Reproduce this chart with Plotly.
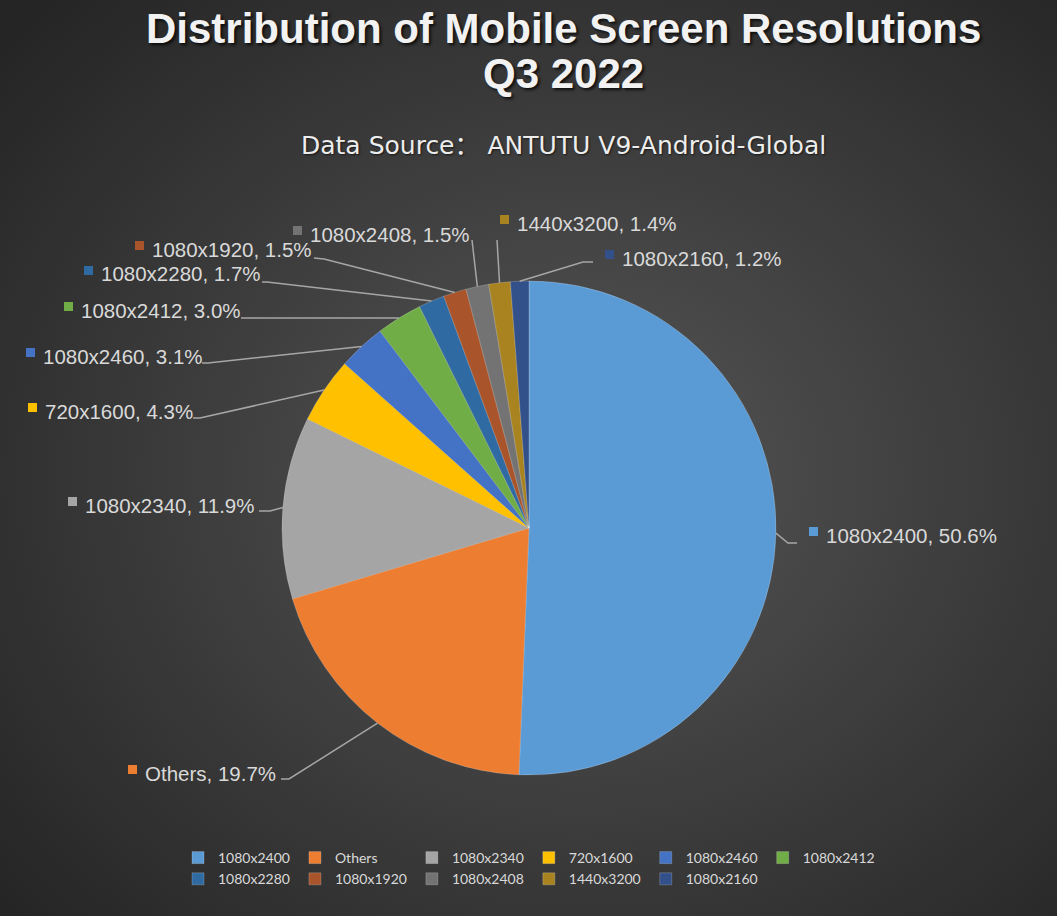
import base64
import math
import plotly.graph_objects as go

# ---------------- data ----------------
labels = ["1080x2400", "Others", "1080x2340", "720x1600", "1080x2460", "1080x2412",
          "1080x2280", "1080x1920", "1080x2408", "1440x3200", "1080x2160"]
shares = [50.6, 19.7, 11.9, 4.3, 3.1, 3.0, 1.7, 1.5, 1.5, 1.4, 1.2]
colors = ["#5B9BD5", "#ED7D31", "#A5A5A5", "#FFC000", "#4472C4", "#70AD47",
          "#2F6AA3", "#A9542A", "#737373", "#A8831F", "#32508A"]

title_lines = ["Distribution of Mobile Screen Resolutions", "Q3 2022"]
subtitle = "Data Source： ANTUTU V9-Android-Global"

# ---------------- layout geometry (pixels) ----------------
W, H = 1057, 916
L, R, T, B = 149, 148, 281, 141
PW, PH = W - L - R, H - T - B
CX, CY, RAD = 529, 528, 247
SQ = 9  # label key square size


def px(x):
    return (x - L) / PW


def py(y):
    return 1 - (y - T) / PH


# label placement: key-square top-left corner, leader line bend points
label_layout = [
    dict(sq=(809, 527), pts=[(788, 543), (797, 543)]),
    dict(sq=(128, 765), pts=[(289, 779), (281, 779)]),
    dict(sq=(68, 497), pts=[(270, 511), (259, 511)]),
    dict(sq=(28, 403), pts=[(200, 418), (193, 418)]),
    dict(sq=(26, 348), pts=[(208, 363), (202, 363)]),
    dict(sq=(64, 302), pts=[(246, 318), (241, 318)]),
    dict(sq=(84, 266), pts=[(267, 282), (262, 282)]),
    dict(sq=(135, 241), pts=[(324, 259), (314, 258)]),
    dict(sq=(293, 226), pts=[(472, 240)]),
    dict(sq=(500, 215), pts=[(497, 240)]),
    dict(sq=(605, 250), pts=[(583, 262), (593, 262)]),
]

fig = go.Figure()
fig.add_trace(go.Pie(
    labels=labels,
    values=shares,
    sort=False,
    direction="clockwise",
    rotation=0,
    textinfo="none",
    marker=dict(colors=colors, line=dict(color="rgba(255,255,255,0.25)", width=0.8)),
    domain=dict(x=[px(CX - RAD), px(CX + RAD)], y=[0, 1]),
    hovertemplate="%{label}: %{value}%<extra></extra>",
))

shapes = []
annotations = []
total = sum(shares)
cum = 0.0
for lab, v, c, lay in zip(labels, shares, colors, label_layout):
    mid = (cum + v / 2) / total * 2 * math.pi
    cum += v
    ex = CX + RAD * math.sin(mid)
    ey = CY - RAD * math.cos(mid)
    pts = [(ex, ey)] + lay["pts"]
    path = "M " + " L ".join(f"{px(x):.5f},{py(y):.5f}" for x, y in pts)
    shapes.append(dict(type="path", xref="paper", yref="paper", path=path,
                       line=dict(color="#A6A6A6", width=1.5)))
    sx, sy = lay["sq"]
    shapes.append(dict(type="rect", xref="paper", yref="paper",
                       x0=px(sx), x1=px(sx + SQ), y0=py(sy + SQ), y1=py(sy),
                       fillcolor=c, line=dict(width=0)))
    annotations.append(dict(
        xref="paper", yref="paper", x=px(sx + SQ + 6), y=py(sy + 8),
        xanchor="left", yanchor="middle", showarrow=False,
        text=f"{lab}, {v}%",
        font=dict(family="Liberation Sans", size=20.5, color="#D9D9D9"),
    ))

# titles
title_font = dict(family="Liberation Sans", size=42, color="#F2F2F2",
                  shadow="2px 2px 3px rgba(0,0,0,0.75)")
annotations.append(dict(
    xref="paper", yref="paper", x=px(563), y=py(29), xanchor="center", yanchor="middle",
    showarrow=False, text=f"<b>{title_lines[0]}</b>", font=title_font))
annotations.append(dict(
    xref="paper", yref="paper", x=px(563), y=py(74), xanchor="center", yanchor="middle",
    showarrow=False, text=f"<b>{title_lines[1]}</b>", font=title_font))
annotations.append(dict(
    xref="paper", yref="paper", x=px(563), y=py(146), xanchor="center", yanchor="middle",
    showarrow=False, text=subtitle,
    font=dict(family="DejaVu Sans, Noto Sans CJK SC", size=25, color="#EDEDED",
              shadow="1px 1px 2px rgba(0,0,0,0.6)")))

# radial gradient background
svg = (f"<svg xmlns='http://www.w3.org/2000/svg' width='{W}' height='{H}'>"
       "<defs><radialGradient id='g' cx='55%' cy='52%' r='72%'>"
       "<stop offset='0' stop-color='#565656'/><stop offset='1' stop-color='#252525'/>"
       "</radialGradient></defs><rect width='100%' height='100%' fill='url(#g)'/></svg>")
bg = "data:image/svg+xml;base64," + base64.b64encode(svg.encode()).decode()

fig.update_layout(
    width=W, height=H,
    margin=dict(l=L, r=R, t=T, b=B, autoexpand=False),
    paper_bgcolor="#333333",
    plot_bgcolor="rgba(0,0,0,0)",
    shapes=shapes,
    annotations=annotations,
    images=[dict(source=bg, xref="paper", yref="paper", x=px(0), y=py(0),
                 sizex=W / PW, sizey=H / PH, sizing="stretch",
                 xanchor="left", yanchor="top", layer="below")],
    showlegend=True,
    legend=dict(orientation="h", x=0.5, xanchor="center", y=py(842), yanchor="top",
                font=dict(family="Lato", size=14, color="#D9D9D9"),
                bgcolor="rgba(0,0,0,0)", itemclick=False, itemdoubleclick=False),
)

fig.write_html("out.html")
